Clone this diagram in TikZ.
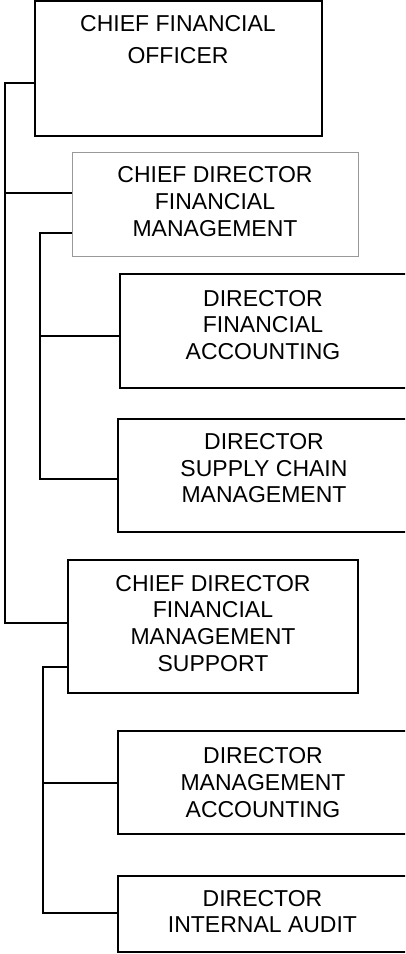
\documentclass[tikz,border=0pt]{standalone}
\usepackage{fontspec}
\setmainfont{Liberation Sans}
\begin{document}
\begin{tikzpicture}[x=1pt,y=-1pt,
  dbox/.style={draw=black,line width=1.8pt,rectangle,inner sep=0pt,outer sep=0pt},
  gbox/.style={draw=black!40,line width=0.9pt,rectangle,inner sep=0pt,outer sep=0pt},
  txt/.style={inner sep=0pt,align=center,anchor=north,font=\fontsize{23}{26.7}\selectfont},
  conn/.style={draw=black,line width=1.8pt}]
\useasboundingbox (0,0) rectangle (405,954);
\clip (0,0) rectangle (405,954);
\fill[white] (0,0) rectangle (405,954);
% boxes
\node[dbox,minimum width=287pt,minimum height=135pt] (cfo) at (178.5,68.5) {};
\node[gbox,minimum width=286pt,minimum height=104pt] (cdfm) at (215,204) {};
\node[dbox,minimum width=288pt,minimum height=114pt] (dfa) at (264,331) {};
\node[dbox,minimum width=290pt,minimum height=113pt] (dscm) at (263,475.5) {};
\node[dbox,minimum width=290pt,minimum height=133pt] (cdfms) at (213,626.5) {};
\node[dbox,minimum width=290pt,minimum height=103pt] (dma) at (263,782.5) {};
\node[dbox,minimum width=290pt,minimum height=76pt] (dia) at (263,914) {};
% texts
\node[txt,font=\fontsize{23}{32.3}\selectfont] (cfoT) at (178,15) {CHIEF FINANCIAL\\OFFICER};
\node[txt] (cdfmT) at (215,166.7) {CHIEF DIRECTOR\\FINANCIAL\\MANAGEMENT};
\node[txt] (dfaT) at (263,290) {DIRECTOR\\FINANCIAL\\ACCOUNTING};
\node[txt] (dscmT) at (264,433.3) {DIRECTOR\\SUPPLY CHAIN\\MANAGEMENT};
\node[txt] (cdfmsT) at (213,575) {CHIEF DIRECTOR\\FINANCIAL\\MANAGEMENT\\SUPPORT};
\node[txt] (dmaT) at (263,747.7) {DIRECTOR\\MANAGEMENT\\ACCOUNTING};
\node[txt] (diaT) at (262.5,890) {DIRECTOR\\INTERNAL AUDIT};
% connector junctions
\coordinate (a1) at (5,83);
\coordinate (a2) at (5,193);
\coordinate (a3) at (5,623);
\coordinate (b1) at (40,233);
\coordinate (b2) at (40,336);
\coordinate (b3) at (40,479);
\coordinate (c1) at (43,667);
\coordinate (c2) at (43,783);
\coordinate (c3) at (43,913);
% connectors
\draw[conn] (a1 -| cfo.west) -- (a1) -- (a3) -- (a3 -| cdfms.west);
\draw[conn] (a2) -- (a2 -| cdfm.west);
\draw[conn] (b1 -| cdfm.west) -- (b1) -- (b3) -- (b3 -| dscm.west);
\draw[conn] (b2) -- (b2 -| dfa.west);
\draw[conn] (c1 -| cdfms.west) -- (c1) -- (c3) -- (c3 -| dia.west);
\draw[conn] (c2) -- (c2 -| dma.west);
\end{tikzpicture}
\end{document}
